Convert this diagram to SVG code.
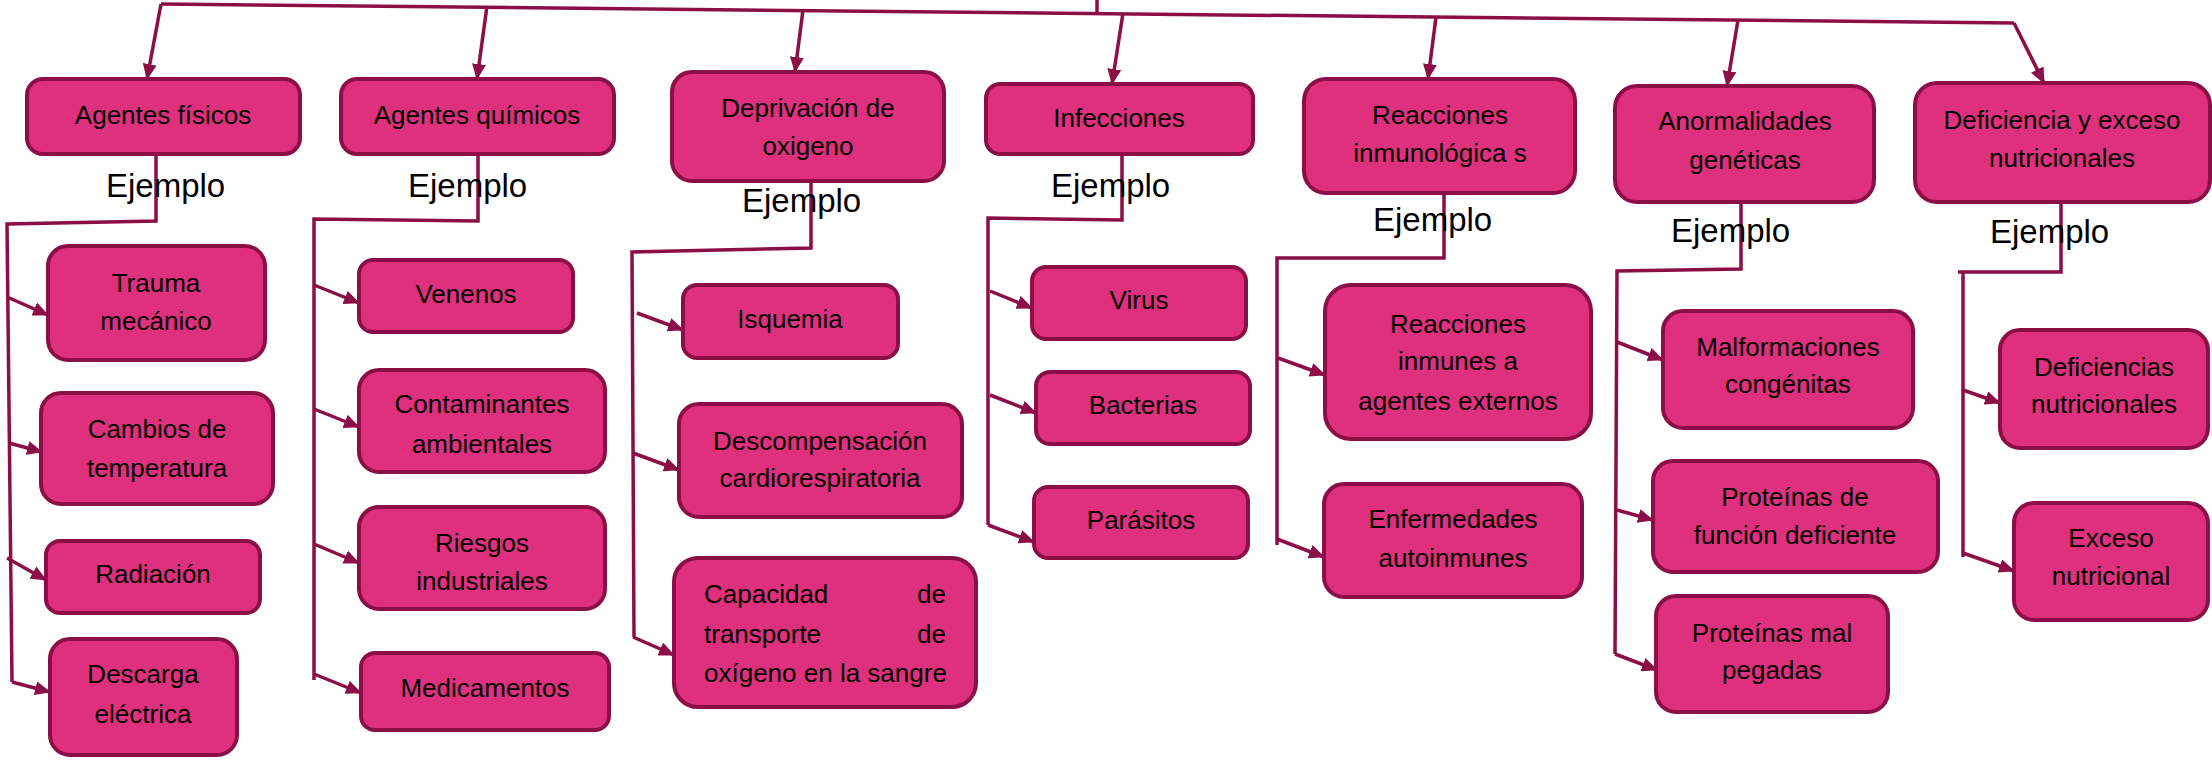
<svg xmlns="http://www.w3.org/2000/svg" width="2212" height="760" viewBox="0 0 2212 760">
<style>
.box{fill:#DF307D;stroke:#8C0E46;stroke-width:4}
.t{font-family:"Liberation Sans",Arial,sans-serif;font-size:26px;fill:#000;text-anchor:middle}
.e{font-family:"Liberation Sans",Arial,sans-serif;font-size:33px;fill:#000}
.c{fill:none;stroke:#8C0E46;stroke-width:3.5}
.a{fill:none;stroke:#8C0E46;stroke-width:3.5;marker-end:url(#ah)}
</style>
<defs>
<marker id="ah" markerUnits="userSpaceOnUse" markerWidth="18" markerHeight="14" refX="15" refY="7" orient="auto">
<path d="M0,0 L16,7 L0,14 Z" fill="#8C0E46"/>
</marker>
</defs>
<g id="connectors">
<polyline class="c" points="161,4 2014,23"/>
<polyline class="c" points="1097,0 1097,14"/>
<polyline class="a" points="161,4 147,79"/>
<polyline class="a" points="487,6 477,79"/>
<polyline class="a" points="803,10 795,72"/>
<polyline class="a" points="1123,13 1112,84"/>
<polyline class="a" points="1436,17 1428,79"/>
<polyline class="a" points="1738,20 1727,86"/>
<polyline class="a" points="2014,23 2044,83"/>
<polyline class="c" points="156,154 156,221 7,224 12,682"/>
<polyline class="a" points="7,297 48,315"/>
<polyline class="a" points="9,443 42,452"/>
<polyline class="a" points="7,558 46,580"/>
<polyline class="a" points="12,682 50,692"/>
<polyline class="c" points="478,154 478,221 314,219 314,680"/>
<polyline class="a" points="314,285 359,303"/>
<polyline class="a" points="314,409 359,427"/>
<polyline class="a" points="314,544 359,563"/>
<polyline class="a" points="314,674 361,693"/>
<polyline class="c" points="811,181 811,248 632,252 634,637"/>
<polyline class="a" points="637,313 683,330"/>
<polyline class="a" points="633,453 679,470"/>
<polyline class="a" points="633,637 674,655"/>
<polyline class="c" points="1122,154 1122,220 988,218 988,525"/>
<polyline class="a" points="990,291 1032,308"/>
<polyline class="a" points="990,395 1036,413"/>
<polyline class="a" points="988,525 1034,542"/>
<polyline class="c" points="1444,193 1444,258 1277,258 1277,545"/>
<polyline class="a" points="1278,358 1325,375"/>
<polyline class="a" points="1277,539 1324,557"/>
<polyline class="c" points="1741,202 1741,269 1617,271 1615,654"/>
<polyline class="a" points="1617,342 1663,360"/>
<polyline class="a" points="1617,510 1653,520"/>
<polyline class="a" points="1615,654 1657,670"/>
<polyline class="c" points="2061,202 2061,272 1958,272"/>
<polyline class="c" points="1963,272 1963,557"/>
<polyline class="a" points="1963,390 2000,403"/>
<polyline class="a" points="1963,553 2014,571"/>
</g>
<g id="labels">
<text class="e" x="106" y="197">Ejemplo</text>
<text class="e" x="408" y="197">Ejemplo</text>
<text class="e" x="742" y="212">Ejemplo</text>
<text class="e" x="1051" y="197">Ejemplo</text>
<text class="e" x="1373" y="231">Ejemplo</text>
<text class="e" x="1671" y="242">Ejemplo</text>
<text class="e" x="1990" y="243">Ejemplo</text>
</g>
<g id="n-fisicos"><rect class="box" x="27" y="79" width="273" height="75" rx="16"/><text class="t" x="163" y="124">Agentes físicos</text></g>
<g id="n-quimicos"><rect class="box" x="341" y="79" width="273" height="75" rx="16"/><text class="t" x="477" y="124">Agentes químicos</text></g>
<g id="n-deprivacion"><rect class="box" x="672" y="72" width="272" height="109" rx="20"/><text class="t" x="808" y="117">Deprivación de</text><text class="t" x="808" y="155">oxigeno</text></g>
<g id="n-infecciones"><rect class="box" x="986" y="84" width="267" height="70" rx="14"/><text class="t" x="1119" y="127">Infecciones</text></g>
<g id="n-reacciones"><rect class="box" x="1304" y="79" width="271" height="114" rx="22"/><text class="t" x="1440" y="124">Reacciones</text><text class="t" x="1440" y="162">inmunológica s</text></g>
<g id="n-anormalidades"><rect class="box" x="1615" y="86" width="259" height="116" rx="22"/><text class="t" x="1745" y="130">Anormalidades</text><text class="t" x="1745" y="169">genéticas</text></g>
<g id="n-deficiencia"><rect class="box" x="1915" y="83" width="295" height="119" rx="22"/><text class="t" x="2062" y="129">Deficiencia y exceso</text><text class="t" x="2062" y="167">nutricionales</text></g>
<g id="n-trauma"><rect class="box" x="48" y="246" width="217" height="114" rx="20"/><text class="t" x="156" y="292">Trauma</text><text class="t" x="156" y="330">mecánico</text></g>
<g id="n-cambios"><rect class="box" x="41" y="393" width="232" height="111" rx="20"/><text class="t" x="157" y="438">Cambios de</text><text class="t" x="157" y="477">temperatura</text></g>
<g id="n-radiacion"><rect class="box" x="46" y="541" width="214" height="72" rx="14"/><text class="t" x="153" y="583">Radiación</text></g>
<g id="n-descarga"><rect class="box" x="50" y="639" width="187" height="116" rx="20"/><text class="t" x="143" y="683">Descarga</text><text class="t" x="143" y="723">eléctrica</text></g>
<g id="n-venenos"><rect class="box" x="359" y="260" width="214" height="72" rx="14"/><text class="t" x="466" y="303">Venenos</text></g>
<g id="n-contaminantes"><rect class="box" x="359" y="370" width="246" height="102" rx="20"/><text class="t" x="482" y="413">Contaminantes</text><text class="t" x="482" y="453">ambientales</text></g>
<g id="n-riesgos"><rect class="box" x="359" y="507" width="246" height="102" rx="20"/><text class="t" x="482" y="552">Riesgos</text><text class="t" x="482" y="590">industriales</text></g>
<g id="n-medicamentos"><rect class="box" x="361" y="653" width="248" height="77" rx="14"/><text class="t" x="485" y="697">Medicamentos</text></g>
<g id="n-isquemia"><rect class="box" x="683" y="285" width="215" height="73" rx="14"/><text class="t" x="790" y="328">Isquemia</text></g>
<g id="n-descompensacion"><rect class="box" x="679" y="404" width="283" height="113" rx="20"/><text class="t" x="820" y="450">Descompensación</text><text class="t" x="820" y="487">cardiorespiratoria</text></g>
<g id="n-capacidad"><rect class="box" x="674" y="558" width="302" height="149" rx="24"/><text class="t" style="text-anchor:start"><tspan x="704" y="603">Capacidad</tspan><tspan x="946" y="603" style="text-anchor:end">de</tspan><tspan x="704" y="643">transporte</tspan><tspan x="946" y="643" style="text-anchor:end">de</tspan><tspan x="704" y="682">oxígeno en la sangre</tspan></text></g>
<g id="n-virus"><rect class="box" x="1032" y="267" width="214" height="72" rx="14"/><text class="t" x="1139" y="309">Virus</text></g>
<g id="n-bacterias"><rect class="box" x="1036" y="372" width="214" height="72" rx="14"/><text class="t" x="1143" y="414">Bacterias</text></g>
<g id="n-parasitos"><rect class="box" x="1034" y="487" width="214" height="71" rx="14"/><text class="t" x="1141" y="529">Parásitos</text></g>
<g id="n-inmunes"><rect class="box" x="1325" y="285" width="266" height="154" rx="26"/><text class="t" x="1458" y="333">Reacciones</text><text class="t" x="1458" y="370">inmunes a</text><text class="t" x="1458" y="410">agentes externos</text></g>
<g id="n-autoinmunes"><rect class="box" x="1324" y="484" width="258" height="113" rx="20"/><text class="t" x="1453" y="528">Enfermedades</text><text class="t" x="1453" y="567">autoinmunes</text></g>
<g id="n-malformaciones"><rect class="box" x="1663" y="311" width="250" height="117" rx="20"/><text class="t" x="1788" y="356">Malformaciones</text><text class="t" x="1788" y="393">congénitas</text></g>
<g id="n-funcion"><rect class="box" x="1653" y="461" width="285" height="111" rx="20"/><text class="t" x="1795" y="506">Proteínas de</text><text class="t" x="1795" y="544">función deficiente</text></g>
<g id="n-malpegadas"><rect class="box" x="1656" y="596" width="232" height="116" rx="20"/><text class="t" x="1772" y="642">Proteínas mal</text><text class="t" x="1772" y="679">pegadas</text></g>
<g id="n-deficiencias"><rect class="box" x="2000" y="330" width="208" height="118" rx="20"/><text class="t" x="2104" y="376">Deficiencias</text><text class="t" x="2104" y="413">nutricionales</text></g>
<g id="n-exceso"><rect class="box" x="2014" y="503" width="194" height="117" rx="20"/><text class="t" x="2111" y="547">Exceso</text><text class="t" x="2111" y="585">nutricional</text></g>
</svg>
